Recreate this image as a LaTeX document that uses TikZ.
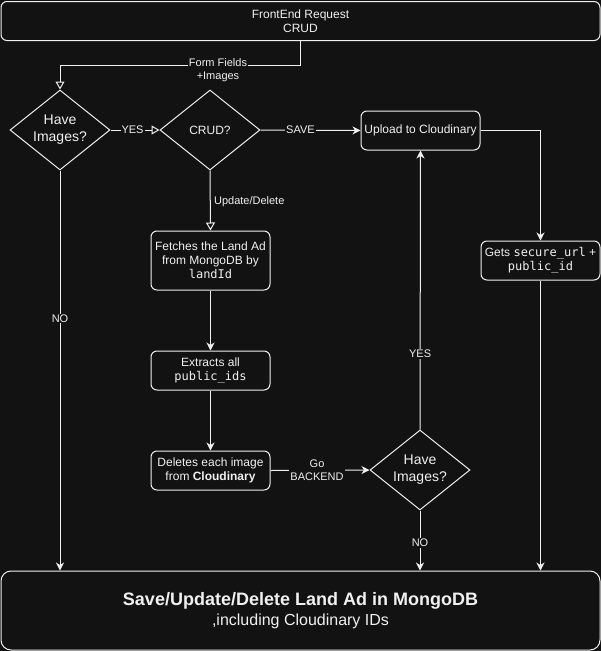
\documentclass[tikz,border=0pt]{standalone}
\usepackage{fontspec}
\setmainfont{Liberation Sans}
\setmonofont{DejaVu Sans Mono}
\usetikzlibrary{arrows.meta,shapes.geometric}
\definecolor{bg}{HTML}{121212}
\definecolor{fg}{HTML}{F0F0F0}
\begin{document}
\begin{tikzpicture}[x=1pt,y=-1pt, line width=1pt,
  every node/.style={text=fg, font=\fontsize{12}{14}\selectfont},
  box/.style={draw=fg, rounded corners=6pt, align=center, inner sep=2pt, fill=bg, minimum width=119pt},
  dia/.style={draw=fg, diamond, aspect=1.25, minimum width=100pt, minimum height=80pt, inner sep=0pt, align=center},
  bigtxt/.style={font=\fontsize{14}{17}\selectfont},
  elabel/.style={fill=bg, font=\fontsize{11}{13}\selectfont, inner sep=1pt, align=center},
  conn/.style={draw=fg},
  openarr/.style={conn, -{Triangle[open, length=8pt, width=9pt]}},
  solidarr/.style={conn, -{Stealth[length=8pt, width=8pt, inset=2.5pt]}}]
\fill[bg] (0,0) rectangle (601,651);
\useasboundingbox (0,0) rectangle (601,651);

\node[box, minimum width=599pt, minimum height=39pt] (top) at (300.5,21) {FrontEnd Request\\CRUD};
\node[dia, bigtxt] (d1) at (60,130) {Have\\Images?};
\node[dia] (d2) at (210,130) {CRUD?};
\node[box, minimum height=39pt] (up) at (420.5,130.5) {Upload to Cloudinary};
\node[box, minimum height=39pt] (gets) at (540.5,260.5) {Gets \texttt{secure\_url} +\\\texttt{public\_id}};
\node[box, minimum height=59pt] (fetch) at (210.5,260.5) {Fetches the Land Ad\\from MongoDB by\\\texttt{landId}};
\node[box, minimum height=39pt] (extr) at (210.5,370.5) {Extracts all\\\texttt{public\_ids}};
\node[box, minimum height=39pt] (del) at (210.5,470.5) {Deletes each image\\from \textbf{Cloudinary}};
\node[dia, bigtxt] (d3) at (420,470) {Have\\Images?};
\node[box, minimum width=599pt, minimum height=79pt, rounded corners=10pt] (save) at (300.5,610.5)
  {{\fontsize{18}{21}\selectfont\bfseries Save/Update/Delete Land Ad in MongoDB}\\[3pt]{\fontsize{16}{19}\selectfont ,including Cloudinary IDs}};

\coordinate (c1) at (60,65);
\draw[openarr] (top.south) |- (c1) -- (d1.north);
\node[elabel] (lff) at (218,70) {Form Fields\\+Images};
\draw[openarr] (d1.east) -- node[elabel, pos=0.45] (lyes1) {YES} (d2.west);
\draw[solidarr] (d2.east) -- node[elabel, pos=0.4] (lsave) {SAVE} (up.west);
\draw[solidarr] (up.east) -| (gets.north);
\draw[solidarr] (gets.south) -- (gets.south |- save.north);
\draw[openarr] (d2.south) -- node[right, font=\fontsize{11}{13}\selectfont, pos=0.52] (lud) {Update/Delete} (fetch.north);
\draw[solidarr] (fetch) -- (extr);
\draw[solidarr] (extr) -- (del);
\draw[solidarr] (del.east) -- node[elabel, pos=0.47] (lgo) {Go\\BACKEND} (d3.west);
\draw[solidarr] (d3.north) -- node[elabel, pos=0.27] (lyes2) {YES} (up.south);
\draw[solidarr] (d3.south) -- node[elabel, pos=0.54] (lno2) {NO} (d3.south |- save.north);
\draw[solidarr] (d1.south) -- node[elabel, pos=0.37] (lno1) {NO} (d1.south |- save.north);
\end{tikzpicture}
\end{document}
